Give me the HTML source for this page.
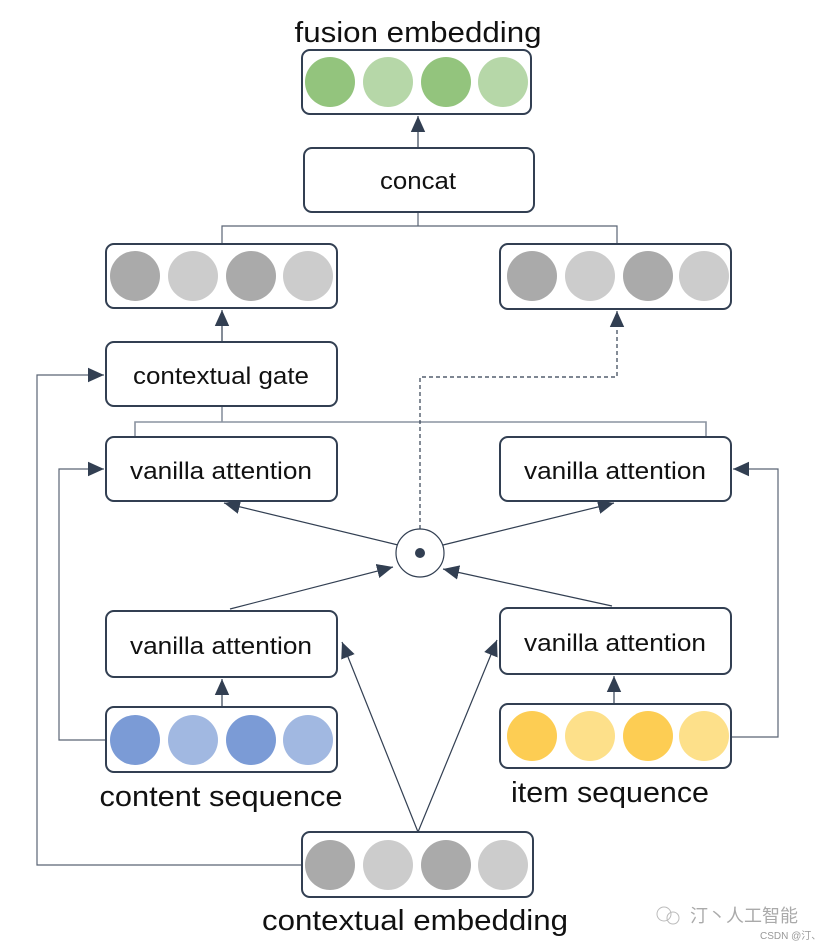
<!DOCTYPE html>
<html><head><meta charset="utf-8"><style>
html,body{margin:0;padding:0;background:#fff;}
svg{display:block;}
text{font-family:"Liberation Sans","Noto Sans CJK SC",sans-serif;fill:#111;}
</style></head><body>
<svg width="836" height="950" viewBox="0 0 836 950" xmlns="http://www.w3.org/2000/svg">
<defs>
<marker id="b" viewBox="0 0 10 10" refX="10" refY="5" markerWidth="16" markerHeight="16" orient="auto" markerUnits="userSpaceOnUse">
<path d="M0,0.5 L10,5 L0,9.5 z" fill="#323f52"/></marker>
</defs>
<g fill="none" stroke="#323f52" stroke-width="1.2">
<line x1="418" y1="148" x2="418" y2="116" marker-end="url(#b)"/>
<path d="M418,212 L418,226 M222,244 L222,226 L617,226 L617,244" stroke="#5a6575"/>
<line x1="222" y1="342" x2="222" y2="310" marker-end="url(#b)"/>
<path d="M222,406 L222,422 M135,437 L135,422 L706,422 L706,437" stroke="#8a93a0" stroke-width="1.6"/>
<path d="M302,865 L37,865 L37,375 L104,375" marker-end="url(#b)" stroke="#5a6575"/>
<path d="M106,740 L59,740 L59,469 L104,469" marker-end="url(#b)" stroke="#5a6575"/>
<path d="M731,737 L778,737 L778,469 L733,469" marker-end="url(#b)" stroke="#5a6575"/>
<path d="M420,529 L420,377 L617,377 L617,311" stroke-dasharray="4,3" marker-end="url(#b)"/>
<line x1="398" y1="545" x2="224" y2="503" marker-end="url(#b)"/>
<line x1="443" y1="545" x2="614" y2="503" marker-end="url(#b)"/>
<line x1="230" y1="609" x2="393" y2="567" marker-end="url(#b)"/>
<line x1="612" y1="606" x2="443" y2="569" marker-end="url(#b)"/>
<line x1="222" y1="707" x2="222" y2="679" marker-end="url(#b)"/>
<line x1="614" y1="704" x2="614" y2="676" marker-end="url(#b)"/>
<line x1="418" y1="832" x2="342" y2="642" marker-end="url(#b)"/>
<line x1="418" y1="832" x2="497" y2="640" marker-end="url(#b)"/>
</g>
<g fill="#fff" stroke="#323f52" stroke-width="2">
<rect x="302" y="50" width="229" height="64" rx="8"/>
<rect x="304" y="148" width="230" height="64" rx="8"/>
<rect x="106" y="244" width="231" height="64" rx="8"/>
<rect x="500" y="244" width="231" height="65" rx="8"/>
<rect x="106" y="342" width="231" height="64" rx="8"/>
<rect x="106" y="437" width="231" height="64" rx="8"/>
<rect x="500" y="437" width="231" height="64" rx="8"/>
<rect x="106" y="611" width="231" height="66" rx="8"/>
<rect x="500" y="608" width="231" height="66" rx="8"/>
<rect x="106" y="707" width="231" height="65" rx="8"/>
<rect x="500" y="704" width="231" height="64" rx="8"/>
<rect x="302" y="832" width="231" height="65" rx="8"/>
</g>
<circle cx="420" cy="553" r="24" fill="#fff" stroke="#323f52" stroke-width="1.2"/>
<circle cx="420" cy="553" r="5" fill="#323f52"/>
<g>
<circle cx="330" cy="82" r="25" fill="#93c47d"/><circle cx="388" cy="82" r="25" fill="#b6d7a8"/><circle cx="446" cy="82" r="25" fill="#93c47d"/><circle cx="503" cy="82" r="25" fill="#b6d7a8"/>
<circle cx="135" cy="276" r="25" fill="#aaaaaa"/><circle cx="193" cy="276" r="25" fill="#cccccc"/><circle cx="251" cy="276" r="25" fill="#aaaaaa"/><circle cx="308" cy="276" r="25" fill="#cccccc"/>
<circle cx="532" cy="276" r="25" fill="#aaaaaa"/><circle cx="590" cy="276" r="25" fill="#cccccc"/><circle cx="648" cy="276" r="25" fill="#aaaaaa"/><circle cx="704" cy="276" r="25" fill="#cccccc"/>
<circle cx="135" cy="740" r="25" fill="#7b9bd6"/><circle cx="193" cy="740" r="25" fill="#a1b8e1"/><circle cx="251" cy="740" r="25" fill="#7b9bd6"/><circle cx="308" cy="740" r="25" fill="#a1b8e1"/>
<circle cx="532" cy="736" r="25" fill="#fdcd53"/><circle cx="590" cy="736" r="25" fill="#fde08a"/><circle cx="648" cy="736" r="25" fill="#fdcd53"/><circle cx="704" cy="736" r="25" fill="#fde08a"/>
<circle cx="330" cy="865" r="25" fill="#aaaaaa"/><circle cx="388" cy="865" r="25" fill="#cccccc"/><circle cx="446" cy="865" r="25" fill="#aaaaaa"/><circle cx="503" cy="865" r="25" fill="#cccccc"/>
</g>
<g text-anchor="middle">
<text x="418" y="42" font-size="29" textLength="247" lengthAdjust="spacingAndGlyphs">fusion embedding</text>
<text x="418" y="189" font-size="24" textLength="76" lengthAdjust="spacingAndGlyphs">concat</text>
<text x="221" y="384" font-size="24" textLength="176" lengthAdjust="spacingAndGlyphs">contextual gate</text>
<text x="221" y="479" font-size="24" textLength="182" lengthAdjust="spacingAndGlyphs">vanilla attention</text>
<text x="615" y="479" font-size="24" textLength="182" lengthAdjust="spacingAndGlyphs">vanilla attention</text>
<text x="221" y="654" font-size="24" textLength="182" lengthAdjust="spacingAndGlyphs">vanilla attention</text>
<text x="615" y="651" font-size="24" textLength="182" lengthAdjust="spacingAndGlyphs">vanilla attention</text>
<text x="221" y="806" font-size="29" textLength="243" lengthAdjust="spacingAndGlyphs">content sequence</text>
<text x="610" y="802" font-size="29" textLength="198" lengthAdjust="spacingAndGlyphs">item sequence</text>
<text x="415" y="930" font-size="29" textLength="306" lengthAdjust="spacingAndGlyphs">contextual embedding</text>
</g>
<text x="690" y="922" font-size="18" style="fill:#aaa">汀丶人工智能</text>
<circle cx="664" cy="914" r="7" fill="none" stroke="#bbb" stroke-width="1"/>
<circle cx="673" cy="918" r="6" fill="none" stroke="#bbb" stroke-width="1"/>
<text x="760" y="939" font-size="10" style="fill:#999">CSDN @汀、</text>
</svg>
</body></html>
